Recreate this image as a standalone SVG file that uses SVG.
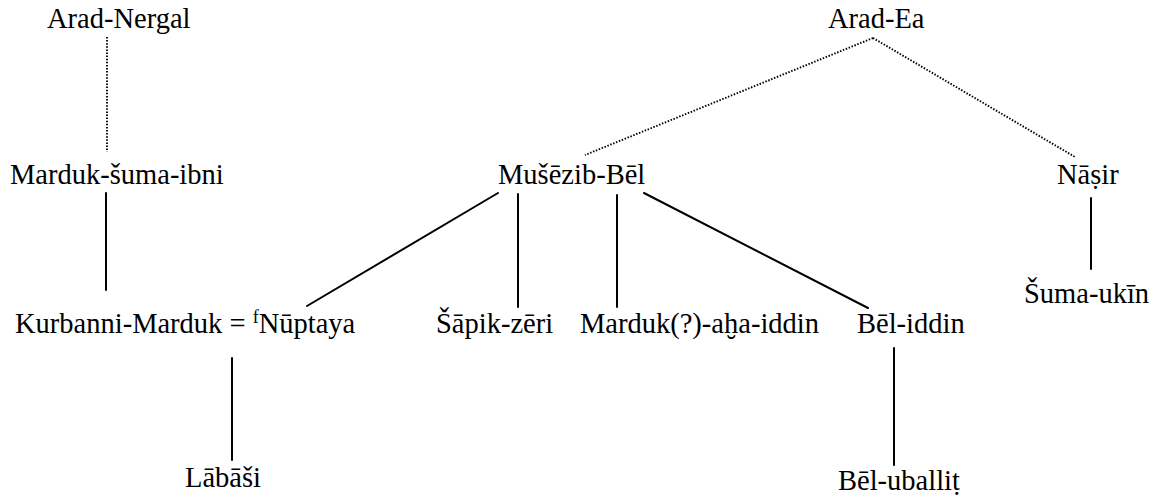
<svg xmlns="http://www.w3.org/2000/svg" width="1161" height="498" viewBox="0 0 1161 498">
<style>
.s{stroke:#000;stroke-width:2;fill:none;stroke-linecap:round}
.d{stroke:#000;stroke-width:1.9;fill:none;stroke-dasharray:1.5 1.6}
</style>
<rect width="1161" height="498" fill="#fff"/>
<g id="connectors">
<line class="d" x1="107" y1="37" x2="107" y2="152"/>
<line class="d" x1="873" y1="38" x2="585" y2="155"/>
<line class="d" x1="873" y1="38" x2="1075" y2="157"/>
<line class="s" x1="106" y1="193" x2="106" y2="290"/>
<line class="s" x1="498" y1="193" x2="307" y2="306"/>
<line class="s" x1="518" y1="194" x2="518" y2="307"/>
<line class="s" x1="617" y1="195" x2="617" y2="307"/>
<line class="s" x1="644" y1="193" x2="868" y2="308"/>
<line class="s" x1="1091" y1="198" x2="1091" y2="269"/>
<line class="s" x1="232" y1="358" x2="232" y2="460"/>
<line class="s" x1="894" y1="348" x2="894" y2="465"/>
</g>
<g font-family="Liberation Serif, DejaVu Serif, serif" font-size="28.5" fill="#000">
<g id="n-arad-nergal"><text x="47" y="28">Arad-Nergal</text></g>
<g id="n-arad-ea"><text x="828" y="28">Arad-Ea</text></g>
<g id="n-marduk-suma-ibni"><text x="10" y="184">Marduk-šuma-ibni</text></g>
<g id="n-musezib-bel"><text x="498" y="184">Mušēzib-Bēl</text></g>
<g id="n-nasir"><text x="1057" y="184">Nāṣir</text></g>
<g id="n-kurbanni"><text x="15" y="333">Kurbanni-Marduk = <tspan font-size="18" dy="-10">f</tspan><tspan dy="10">Nūptaya</tspan></text></g>
<g id="n-sapik-zeri"><text x="436" y="333">Šāpik-zēri</text></g>
<g id="n-marduk-aha-iddin"><text x="580" y="333">Marduk(?)-aḫa-iddin</text></g>
<g id="n-bel-iddin"><text x="857" y="333">Bēl-iddin</text></g>
<g id="n-suma-ukin"><text x="1024" y="303">Šuma-ukīn</text></g>
<g id="n-labasi"><text x="185" y="487">Lābāši</text></g>
<g id="n-bel-uballit"><text x="838" y="490">Bēl-uballiṭ</text></g>
</g>
</svg>
